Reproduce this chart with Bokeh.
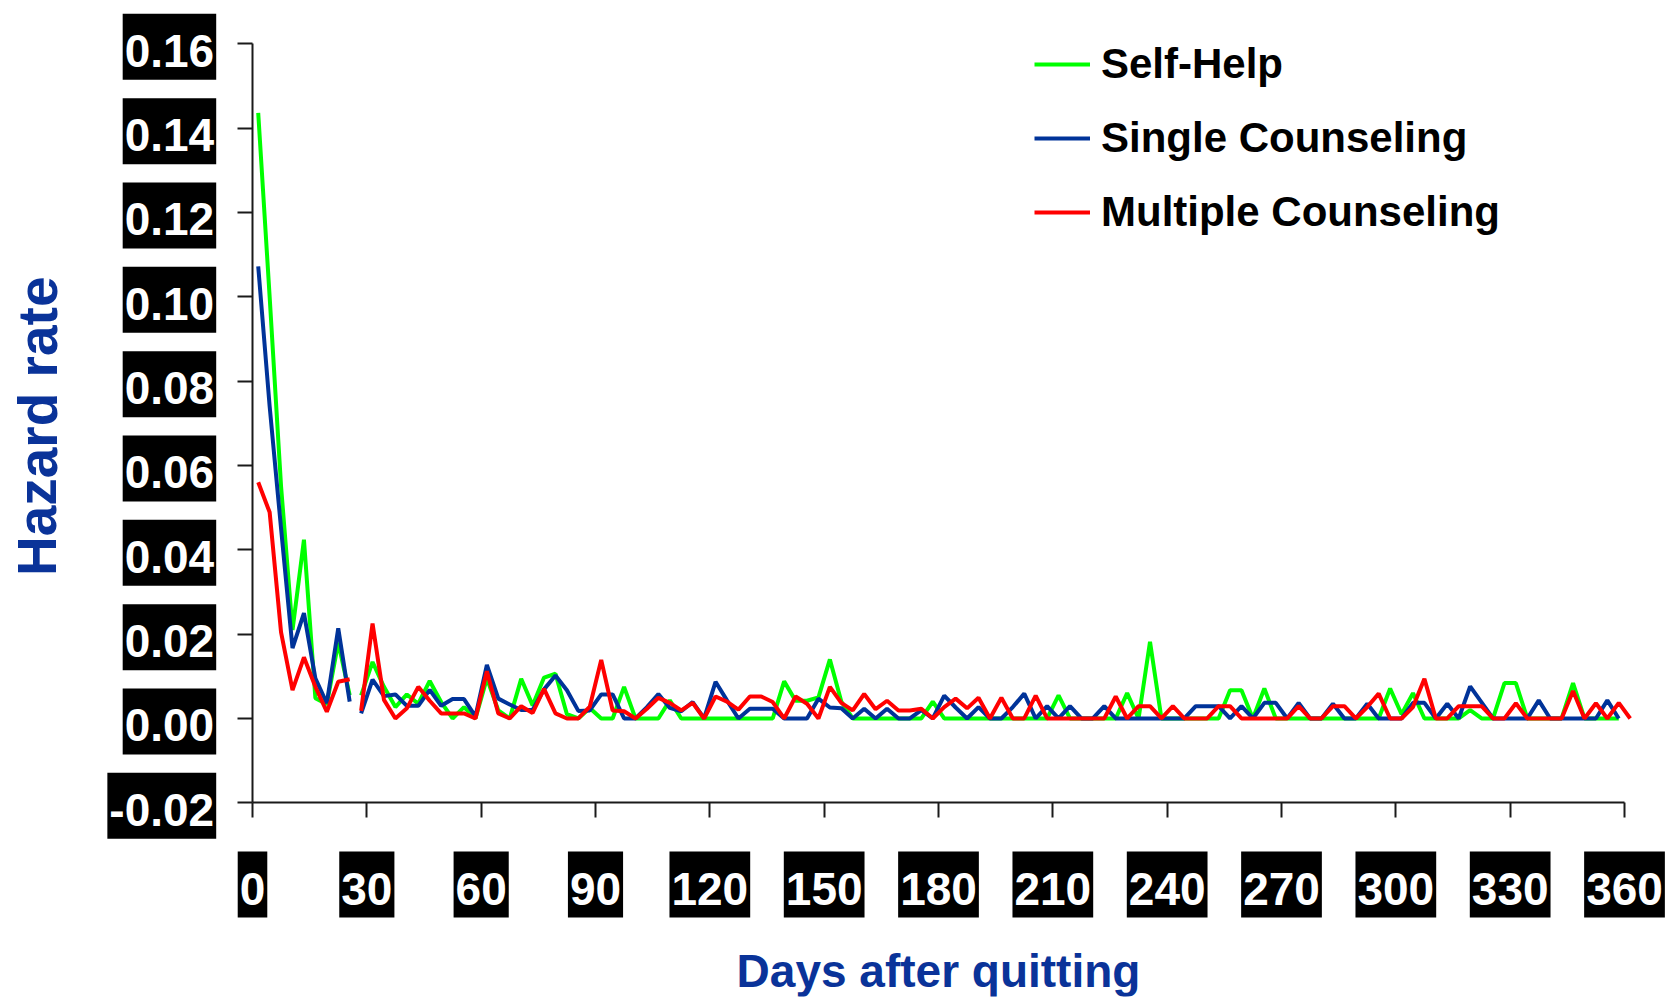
from bokeh.plotting import figure
from bokeh.models import Range1d, Label, Legend, LegendItem, FixedTicker, LinearAxis
from bokeh.embed import file_html
from bokeh.resources import INLINE

# ---------------- data ----------------
days = [1.5 + 3 * i for i in range(121)]
BREAK = 9  # the series are not joined between index 8 and 9

self_help = [
    0.1436, 0.100, 0.055, 0.021, 0.0424, 0.0048, 0.0034, 0.018, 0.0055,
    0.0055, 0.0134, 0.0075, 0.0027, 0.0057, 0.0035, 0.0089, 0.0039, 0.0, 0.0027,
    0.0, 0.0095, 0.0019, 0.0, 0.0094, 0.0031, 0.0097, 0.0106, 0.001, 0.0,
    0.0025, 0.0, 0.0, 0.0075, 0.0, 0.0, 0.0, 0.0043, 0.0, 0.0,
    0.0, 0.0, 0.0, 0.0, 0.0, 0.0, 0.0, 0.0088, 0.0042, 0.0042,
    0.005, 0.014, 0.004, 0.0, 0.0, 0.0, 0.0, 0.0, 0.0, 0.0,
    0.004, 0.0, 0.0, 0.0, 0.0, 0.0, 0.0, 0.0, 0.0, 0.0,
    0.0, 0.0055, 0.0, 0.0, 0.0, 0.0, 0.0, 0.006, 0.0, 0.0182,
    0.0, 0.0, 0.0, 0.0, 0.0, 0.0, 0.0067, 0.0067, 0.0, 0.0071,
    0.0, 0.0, 0.0, 0.0, 0.0, 0.0, 0.0, 0.0, 0.0, 0.0,
    0.0071, 0.001, 0.006, 0.0, 0.0, 0.0, 0.0, 0.002, 0.0, 0.0,
    0.0084, 0.0084, 0.0, 0.0, 0.0, 0.0, 0.0084, 0.0, 0.0, 0.0,
    0.0,
]

single = [
    0.1072, 0.074, 0.045, 0.0167, 0.025, 0.0095, 0.0036, 0.0214, 0.004,
    0.0012, 0.0092, 0.0053, 0.0057, 0.003, 0.003, 0.0068, 0.003, 0.0046, 0.0046,
    0.0005, 0.0127, 0.0047, 0.0033, 0.002, 0.002, 0.0069, 0.0102, 0.0067, 0.0018,
    0.0019, 0.0057, 0.0057, 0.0, 0.0, 0.0027, 0.0058, 0.0025, 0.0017, 0.0039,
    0.0, 0.0087, 0.0043, 0.0, 0.0023, 0.0023, 0.0023, 0.0, 0.0, 0.0,
    0.0047, 0.0026, 0.0024, 0.0, 0.0023, 0.0, 0.0023, 0.0, 0.0, 0.002,
    0.0, 0.0054, 0.0026, 0.0, 0.0027, 0.0, 0.0, 0.0027, 0.0059, 0.0,
    0.0029, 0.0, 0.0029, 0.0, 0.0, 0.0029, 0.0, 0.0, 0.0, 0.0,
    0.0, 0.0, 0.0, 0.0029, 0.0029, 0.0029, 0.0, 0.0029, 0.0, 0.0037,
    0.0037, 0.0, 0.0037, 0.0, 0.0, 0.0035, 0.0, 0.0, 0.0035, 0.0,
    0.0, 0.0, 0.0037, 0.0037, 0.0, 0.0035, 0.0, 0.0076, 0.0038, 0.0,
    0.0, 0.0, 0.0, 0.0043, 0.0, 0.0, 0.0, 0.0, 0.0, 0.0043,
    0.0,
]

multiple = [
    0.056, 0.0489, 0.0204, 0.0067, 0.0145, 0.0075, 0.0016, 0.0087, 0.0093,
    0.0018, 0.0225, 0.0044, 0.0, 0.0024, 0.0075, 0.0042, 0.0012, 0.0012, 0.0012,
    0.0, 0.0112, 0.0012, 0.0, 0.0029, 0.0013, 0.007, 0.0012, 0.0, 0.0,
    0.0028, 0.0139, 0.0019, 0.0017, 0.0, 0.0023, 0.0049, 0.0037, 0.0019, 0.0037,
    0.0, 0.0052, 0.004, 0.0021, 0.0052, 0.0052, 0.0039, 0.0, 0.0052, 0.0035,
    0.0, 0.0075, 0.0037, 0.0019, 0.0058, 0.0022, 0.0042, 0.0019, 0.0019, 0.0023,
    0.0, 0.0027, 0.0047, 0.0024, 0.0049, 0.0, 0.0049, 0.0, 0.0, 0.0054,
    0.0, 0.0, 0.0, 0.0, 0.0, 0.0, 0.0052, 0.0, 0.0029, 0.0029,
    0.0, 0.0029, 0.0, 0.0, 0.0, 0.0029, 0.0029, 0.0, 0.0, 0.0,
    0.0, 0.0, 0.0029, 0.0, 0.0, 0.0029, 0.0029, 0.0, 0.0027, 0.0059,
    0.0, 0.0, 0.0027, 0.0094, 0.0, 0.0, 0.0029, 0.0029, 0.0029, 0.0,
    0.0, 0.0036, 0.0, 0.0, 0.0, 0.0, 0.0065, 0.0, 0.0036, 0.0,
    0.0037, 0.0,
]

series_names = ["Self-Help", "Single Counseling", "Multiple Counseling"]
series_colors = ["#00FF00", "#003399", "#FF0000"]

x_ticks = [0, 30, 60, 90, 120, 150, 180, 210, 240, 270, 300, 330, 360]
y_ticks = [-0.02, 0.00, 0.02, 0.04, 0.06, 0.08, 0.10, 0.12, 0.14, 0.16]
y_tick_labels = ["-0.02", "0.00", "0.02", "0.04", "0.06", "0.08", "0.10", "0.12", "0.14", "0.16"]

x_title = "Days after quitting"
y_title = "Hazard rate"

# ---------------- layout (pixels on the page) ----------------
W, H = 1669, 1000
BL, BR, BT, BB = 4, 4, 4, 4            # borders around the frame
AX_X0, AX_X1 = 252.0, 1624.0           # page x of day 0 and day 360
AX_Y0, AX_Y1 = 802.3, 43.3             # page y of -0.02 and 0.16
XMIN, XMAX, YMIN, YMAX = 0, 360, -0.02, 0.16
sx = (AX_X1 - AX_X0) / (XMAX - XMIN)
sy = (AX_Y0 - AX_Y1) / (YMAX - YMIN)
fl, fr = BL, W - BR
ft, fb = BT, H - BB
x_start = XMIN + (fl - AX_X0) / sx
x_end = XMIN + (fr - AX_X0) / sx
y_start = YMIN - (fb - AX_Y0) / sy
y_end = YMIN + (AX_Y0 - ft) / sy

FONT = "Liberation Sans"
TICK_FS = 46
TITLE_BLUE = "#0a3399"
AXIS_COL = "#1a1a1a"

p = figure(frame_width=fr - fl, frame_height=fb - ft, output_backend="svg", toolbar_location=None,
           x_range=Range1d(x_start, x_end), y_range=Range1d(y_start, y_end),
           x_axis_location=None, y_axis_location=None,
           min_border_left=BL, min_border_right=BR, min_border_top=BT, min_border_bottom=BB)
p.outline_line_color = None
p.xgrid.visible = False
p.ygrid.visible = False
p.background_fill_color = "white"
p.border_fill_color = "white"

xaxis = LinearAxis(fixed_location=YMIN, bounds=(XMIN, XMAX), ticker=FixedTicker(ticks=x_ticks))
yaxis = LinearAxis(fixed_location=XMIN, bounds=(YMIN, YMAX), ticker=FixedTicker(ticks=y_ticks))
for ax in (xaxis, yaxis):
    ax.axis_line_color = AXIS_COL
    ax.axis_line_width = 2
    ax.major_tick_line_color = AXIS_COL
    ax.major_tick_line_width = 2
    ax.major_tick_out = 15
    ax.major_tick_in = 0
    ax.minor_tick_line_color = None
    ax.major_label_text_color = None
    ax.major_label_text_font_size = "1px"
    ax.major_label_standoff = 0
p.add_layout(xaxis, "below")
p.add_layout(yaxis, "left")

renderers = []
for vals, col in zip([self_help, single, multiple], series_colors):
    r1 = p.line(days[:BREAK], vals[:BREAK], line_color=col, line_width=4)
    p.line(days[BREAK:], vals[BREAK:], line_color=col, line_width=4)
    renderers.append(r1)

LEG_X, LEG_TOP, ROW, GAP = 1035, 34, 60, 14
leg_h = 3 * ROW + 2 * GAP
legend = Legend(items=[LegendItem(label=n, renderers=[r]) for n, r in zip(series_names, renderers)],
                location=(LEG_X - fl - 1, fb - (LEG_TOP + leg_h)), orientation="vertical",
                label_text_font=FONT, label_text_font_style="bold",
                label_text_font_size="42px", label_text_color="black",
                glyph_width=56, glyph_height=ROW, label_height=ROW, label_standoff=11,
                spacing=GAP, padding=0, margin=0,
                border_line_alpha=0, background_fill_alpha=0)
p.add_layout(legend)

# ---------------- tick labels in black boxes ----------------
EM = {"-": 0.333, ".": 0.278}          # glyph advance widths (em) of the bold sans font
BOX_H, BOX_PAD = 66, 2


def box_width(s):
    return sum(EM.get(c, 0.556) for c in s) * TICK_FS + 2 * BOX_PAD


X_BOX_DROP = 81.7                      # box centre below the x axis, px
Y_BOX_GAP, Y_BOX_DROP = 36.3, 3.0      # box right edge left of the y axis; centre below tick, px
TEXT_DROP = 4                          # digits sit a bit below the text-box middle

xw = [box_width(str(t)) for t in x_ticks]
p.rect(x=x_ticks, y=[YMIN - X_BOX_DROP / sy] * len(x_ticks), width=xw, height=BOX_H,
       width_units="screen", height_units="screen", fill_color="black", line_color=None)
yw = [box_width(s) for s in y_tick_labels]
ybx = [XMIN - (Y_BOX_GAP + w / 2) / sx for w in yw]
p.rect(x=ybx, y=[t - Y_BOX_DROP / sy for t in y_ticks], width=yw, height=BOX_H,
       width_units="screen", height_units="screen", fill_color="black", line_color=None)

for t in x_ticks:
    p.add_layout(Label(x=t, y=YMIN, y_offset=-(X_BOX_DROP + TEXT_DROP), text=str(t),
                       text_align="center", text_baseline="middle",
                       text_font=FONT, text_font_style="bold", text_font_size=f"{TICK_FS}px",
                       text_color="white"))
for bx, t, s in zip(ybx, y_ticks, y_tick_labels):
    p.add_layout(Label(x=bx, y=t, y_offset=-(Y_BOX_DROP + TEXT_DROP), text=s,
                       text_align="center", text_baseline="middle",
                       text_font=FONT, text_font_style="bold", text_font_size=f"{TICK_FS}px",
                       text_color="white"))

# ---------------- axis titles ----------------
p.add_layout(Label(x=(XMIN + XMAX) / 2, y=YMIN, y_offset=-(970 - AX_Y0), text=x_title,
                   text_align="center", text_baseline="middle",
                   text_font=FONT, text_font_style="bold", text_font_size="46px",
                   text_color=TITLE_BLUE))
p.add_layout(Label(x=XMIN, y=(YMIN + YMAX) / 2, x_offset=-(AX_X0 - 37), y_offset=-3,
                   text=y_title, angle=1.5707963,
                   text_align="center", text_baseline="middle",
                   text_font=FONT, text_font_style="bold", text_font_size="55px",
                   text_color=TITLE_BLUE))

open("out.html", "w").write(file_html(p, INLINE))
